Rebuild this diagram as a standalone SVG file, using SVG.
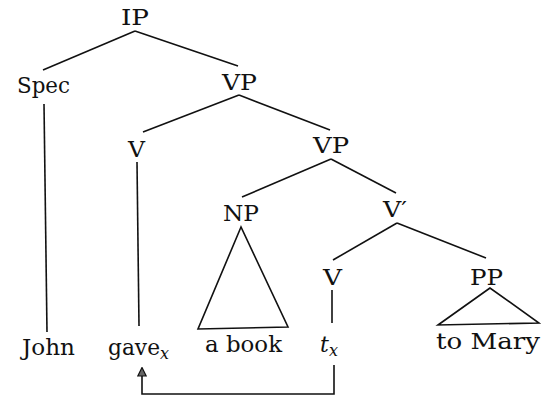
<svg xmlns="http://www.w3.org/2000/svg" width="541" height="397" viewBox="0 0 541 397">
<style>
text{font-family:'DejaVu Serif',serif;font-size:22px;fill:#111;}
.m{text-anchor:middle;}
.i{font-style:italic;}
.s{font-size:16px;font-style:italic;}
line,polyline,polygon{stroke:#111;stroke-width:1.6;fill:none;}
</style>
<defs>
<marker id="ah" markerWidth="10" markerHeight="10" refX="9" refY="5" orient="auto" markerUnits="userSpaceOnUse" viewBox="0 0 10 10">
<path d="M9.5,5 L1,0.8 L1,9.2 Z" fill="#666" stroke="#111" stroke-width="1.2"/>
</marker>
</defs>
<rect width="541" height="397" fill="#fff"/>
<g id="connectors">
<line x1="135" y1="31" x2="43" y2="70"/>
<line x1="135" y1="31" x2="238" y2="66"/>
<line x1="44" y1="104" x2="47" y2="332"/>
<line x1="239" y1="95" x2="143" y2="132"/>
<line x1="239" y1="95" x2="330" y2="130"/>
<line x1="137" y1="162" x2="139" y2="326"/>
<line x1="331" y1="159" x2="242" y2="197"/>
<line x1="331" y1="159" x2="396" y2="193"/>
<line x1="397" y1="223" x2="333" y2="260"/>
<line x1="397" y1="223" x2="486" y2="258"/>
<line x1="332" y1="290" x2="332" y2="323"/>
<polygon points="241,227 198,329 288,327"/>
<polygon points="490,288 438,325 539,323"/>
<polyline points="334,365 334,394 142,394 142,368" marker-end="url(#ah)"/>
</g>
<g id="IP"><text class="m" x="135" y="25" textLength="28" lengthAdjust="spacingAndGlyphs">IP</text></g>
<g id="Spec"><text class="m" x="43.5" y="93" textLength="53" lengthAdjust="spacingAndGlyphs">Spec</text></g>
<g id="VP1"><text class="m" x="239.5" y="90" textLength="35" lengthAdjust="spacingAndGlyphs">VP</text></g>
<g id="V1"><text class="m" x="136.5" y="157" textLength="17" lengthAdjust="spacingAndGlyphs">V</text></g>
<g id="VP2"><text class="m" x="331" y="153" textLength="36" lengthAdjust="spacingAndGlyphs">VP</text></g>
<g id="NP"><text class="m" x="241" y="221" textLength="36" lengthAdjust="spacingAndGlyphs">NP</text></g>
<g id="Vbar"><text class="m" x="395" y="217" textLength="24" lengthAdjust="spacingAndGlyphs">V′</text></g>
<g id="V2"><text class="m" x="332.5" y="285" textLength="19" lengthAdjust="spacingAndGlyphs">V</text></g>
<g id="PP"><text class="m" x="486.5" y="285" textLength="33" lengthAdjust="spacingAndGlyphs">PP</text></g>
<g id="John"><text class="m" x="48.5" y="355" textLength="53" lengthAdjust="spacingAndGlyphs">John</text></g>
<g id="gave"><text x="108" y="355" textLength="52" lengthAdjust="spacingAndGlyphs">gave</text><text class="s" x="160" y="359">x</text></g>
<g id="abook"><text class="m" x="243.5" y="352" textLength="77" lengthAdjust="spacingAndGlyphs">a book</text></g>
<g id="tx"><text class="i" x="320" y="352">t</text><text class="s" x="329" y="356">x</text></g>
<g id="toMary"><text class="m" x="488" y="349" textLength="104" lengthAdjust="spacingAndGlyphs">to Mary</text></g>
</svg>
